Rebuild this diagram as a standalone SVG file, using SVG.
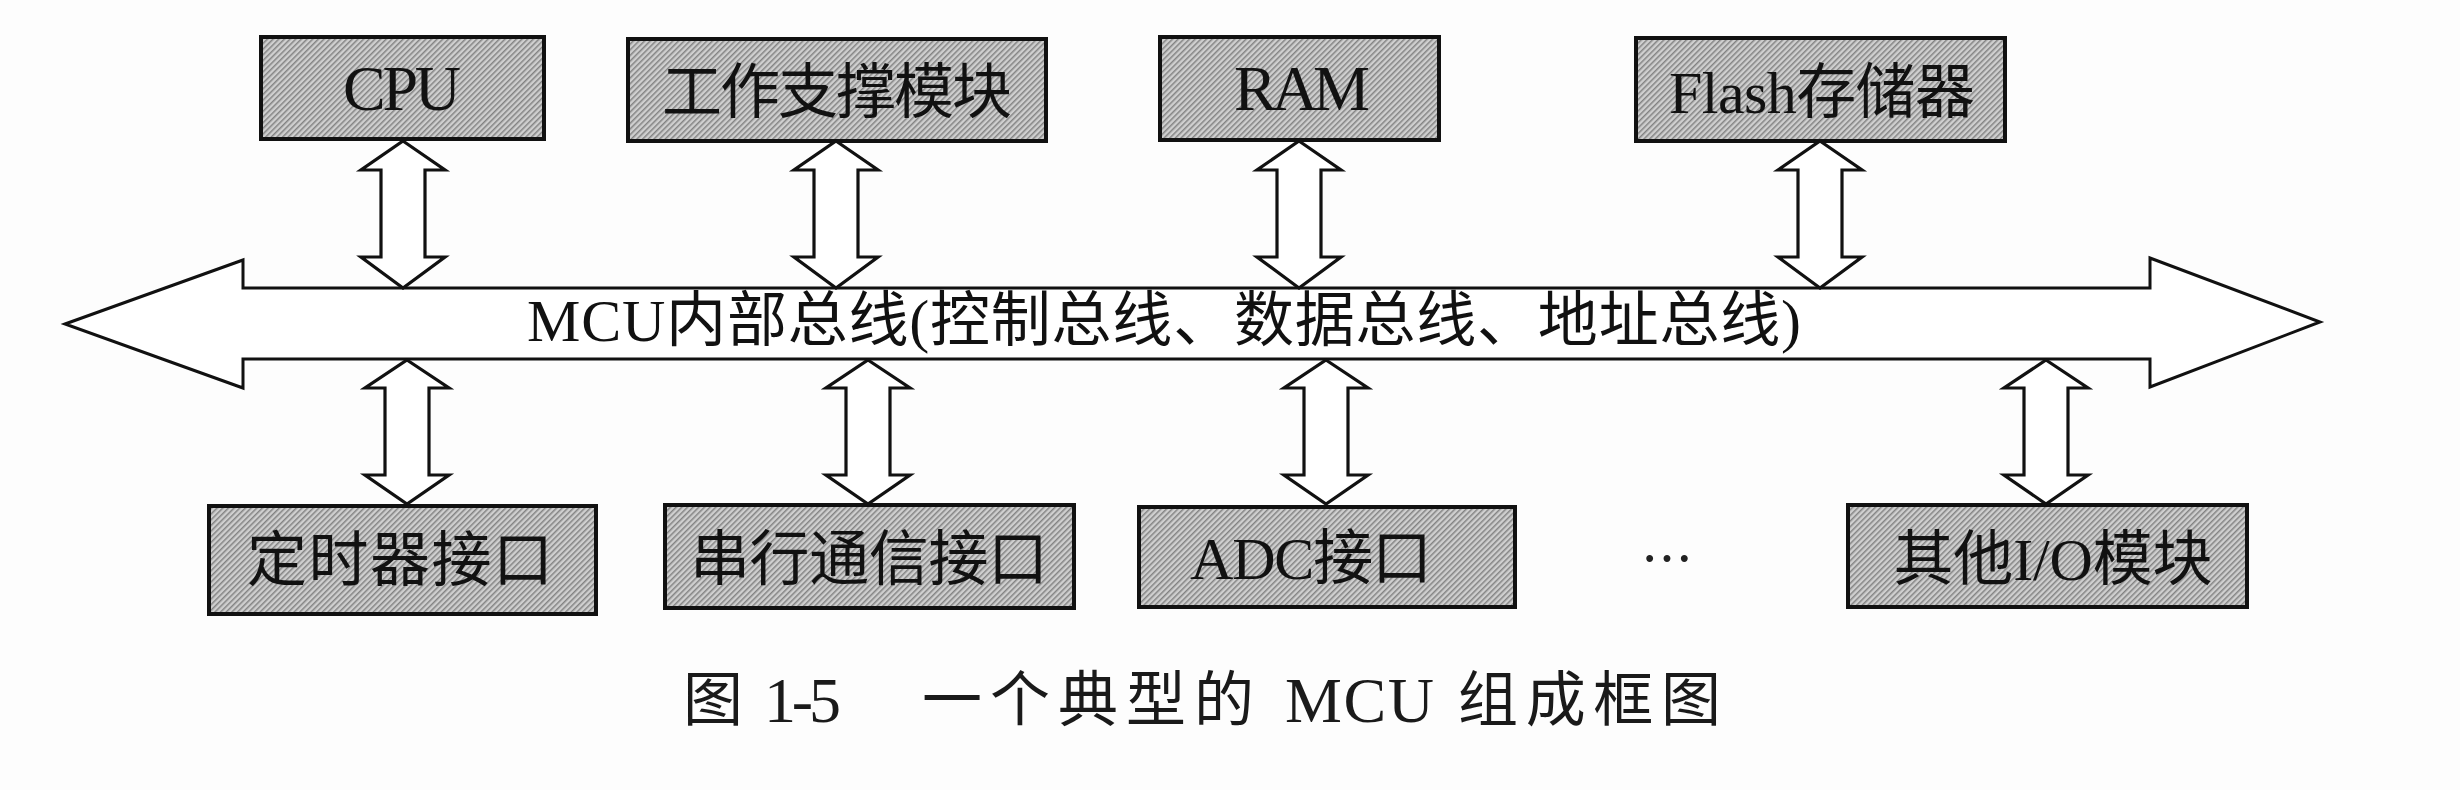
<svg xmlns="http://www.w3.org/2000/svg" xmlns:xlink="http://www.w3.org/1999/xlink" width="2460" height="790" viewBox="0 0 2460 790">
  <style>
    .box { fill: url(#hatch); stroke: #111; stroke-width: 4; }
    .lbl { font-family: "Liberation Serif", "Noto Sans CJK SC", serif; font-size: 60px; fill: #111; text-anchor: middle; }
    .lat { font-size: 64px; }
    .bus { fill: #fff; stroke: #111; stroke-width: 3; stroke-linejoin: miter; }
    .arr { fill: #fff; stroke: #111; stroke-width: 3.2; stroke-linejoin: miter; }
    .cap { font-family: "Liberation Serif", "Noto Sans CJK SC", serif; font-size: 60px; fill: #1a1a1a; }
  </style>
  <defs>
    <pattern id="hatch" patternUnits="userSpaceOnUse" width="4" height="4" patternTransform="rotate(45)">
      <rect width="4" height="4" fill="#cfcfcf"/>
      <rect width="1.5" height="4" fill="#838383"/>
    </pattern>
    <path id="arrTop" d="M0,141 L42,170 L22,170 L22,257 L42,257 L0,288 L-42,257 L-22,257 L-22,170 L-42,170 Z"/>
    <path id="arrBot" d="M0,360 L42,388 L22,388 L22,475 L42,475 L0,504 L-42,475 L-22,475 L-22,388 L-42,388 Z"/>
  </defs>
  <rect width="2460" height="790" fill="#fdfdfd"/>

  <g id="bus">
    <path class="bus" d="M65,324 L243,260 L243,288 L2150,288 L2150,258 L2320,322 L2150,387 L2150,359 L243,359 L243,388 Z"/>
    <text class="lbl" x="1164" y="341" textLength="1274">MCU内部总线(控制总线、数据总线、地址总线)</text>
  </g>

  <g id="connectors">
    <use xlink:href="#arrTop" class="arr" x="403"/>
    <use xlink:href="#arrTop" class="arr" x="836"/>
    <use xlink:href="#arrTop" class="arr" x="1299"/>
    <use xlink:href="#arrTop" class="arr" x="1820"/>
    <use xlink:href="#arrBot" class="arr" x="407"/>
    <use xlink:href="#arrBot" class="arr" x="868"/>
    <use xlink:href="#arrBot" class="arr" x="1326"/>
    <use xlink:href="#arrBot" class="arr" x="2046"/>
  </g>

  <g id="cpu">
    <rect class="box" x="261" y="37" width="283" height="102"/>
    <text class="lbl lat" x="402" y="110" textLength="118">CPU</text>
  </g>
  <g id="support">
    <rect class="box" x="628" y="39" width="418" height="102"/>
    <text class="lbl" x="837" y="113" textLength="350">工作支撑模块</text>
  </g>
  <g id="ram">
    <rect class="box" x="1160" y="37" width="279" height="103"/>
    <text class="lbl lat" x="1302" y="110" textLength="136">RAM</text>
  </g>
  <g id="flash">
    <rect class="box" x="1636" y="38" width="369" height="103"/>
    <text class="lbl" x="1822" y="113" textLength="306">Flash存储器</text>
  </g>

  <g id="timer">
    <rect class="box" x="209" y="506" width="387" height="108"/>
    <text class="lbl" x="400" y="581" textLength="306">定时器接口</text>
  </g>
  <g id="serial">
    <rect class="box" x="665" y="505" width="409" height="103"/>
    <text class="lbl" x="869" y="580" textLength="358">串行通信接口</text>
  </g>
  <g id="adc">
    <rect class="box" x="1139" y="507" width="376" height="100"/>
    <text class="lbl" x="1311" y="579" textLength="242">ADC接口</text>
  </g>
  <g id="ellipsis">
    <text x="1667" y="578" style="font-family: 'Noto Sans CJK SC', sans-serif; font-size: 52px; fill: #222; text-anchor: middle;">…</text>
  </g>
  <g id="otherio">
    <rect class="box" x="1848" y="505" width="399" height="102"/>
    <text class="lbl" x="2053" y="580" textLength="319">其他I/O模块</text>
  </g>

  <g id="caption">
    <text class="cap" x="683" y="721">图</text>
    <text class="cap" x="764" y="722" textLength="77" style="font-size:64px">1-5</text>
    <text class="cap" x="922" y="721" textLength="332">一个典型的</text>
    <text class="cap" x="1285" y="722" textLength="149" style="font-size:64px">MCU</text>
    <text class="cap" x="1458" y="721" textLength="263">组成框图</text>
  </g>
</svg>
